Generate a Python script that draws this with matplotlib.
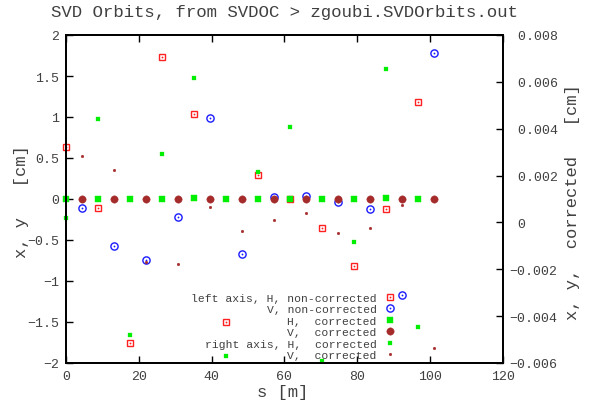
import matplotlib
matplotlib.use("Agg")
import matplotlib.pyplot as plt
from matplotlib.legend_handler import HandlerTuple

plt.rcParams['font.family'] = ['Liberation Mono', 'DejaVu Sans Mono']

# ---------------- data ----------------
s_H = [0.0, 8.8, 17.6, 26.4, 35.2, 44.0, 52.8, 61.6, 70.4, 79.2, 88.0, 96.8]
s_V = [4.4, 13.2, 22.0, 30.8, 39.6, 48.4, 57.2, 66.0, 74.8, 83.6, 92.4, 101.2]

H_noncorr = [0.634, -0.106, -1.756, 1.732, 1.037, -1.500, 0.297, -0.005,
             -0.354, -0.821, -0.124, 1.183]
V_noncorr = [-0.110, -0.573, -0.744, -0.224, 0.988, -0.671, 0.030, 0.033,
             -0.040, -0.120, -1.171, 1.784]
H_corr = [0.00019, 0.00443, -0.00479, 0.00294, 0.00617, -0.00569, 0.00215,
          0.00409, -0.00592, -0.00082, 0.00656, -0.00445]
V_corr = [0.00282, 0.00224, -0.00167, -0.00179, 0.00067, -0.00037, 0.00012,
          0.00041, -0.00045, -0.00024, 0.00074, -0.00535]

x_ticks = [0, 20, 40, 60, 80, 100, 120]
x_labels = ['0', '20', '40', '60', '80', '100', '120']
y_ticks = [-2, -1.5, -1, -0.5, 0, 0.5, 1, 1.5, 2]
y_labels = ['\u22122', '\u22121.5', '\u22121', '\u22120.5', '0', '0.5', '1', '1.5', '2']
y2_ticks = [-0.006, -0.004, -0.002, 0, 0.002, 0.004, 0.006, 0.008]
y2_labels = ['\u22120.006', '\u22120.004', '\u22120.002', ' 0', ' 0.002', ' 0.004',
             ' 0.006', ' 0.008']

legend_labels = ['left axis, H, non-corrected', 'V, non-corrected',
                 'H,  corrected', 'V,  corrected',
                 'right axis, H,  corrected', 'V,  corrected']

title = 'SVD Orbits, from SVDOC > zgoubi.SVDOrbits.out'

# ---------------- style ----------------
RED = '#ff2020'
BLUE = '#1a1aff'
GREEN = '#00ee00'
BROWN = '#a52a2a'
TXT = '#404040'

W, H = 601, 402
fig = plt.figure(figsize=(W / 100, H / 100), dpi=100)
L, R, T, B = 66, 502.7, 36, 364
ax = fig.add_axes([L / W, 1 - B / H, (R - L) / W, (B - T) / H])
ax2 = ax.twinx()

ax.set_xlim(0, 120)
ax.set_ylim(-2, 2)
ax2.set_ylim(-0.006, 0.008)

# H non-corrected: open square with centre dot
h1a, = ax.plot(s_H, H_noncorr, ls='none', marker='s', ms=5.0, mfc='none',
               mec=RED, mew=1.0, clip_on=False)
h1b, = ax.plot(s_H, H_noncorr, ls='none', marker='o', ms=1.3, mfc=RED,
               mec='none', clip_on=False)
# V non-corrected: open circle with centre dot
h2a, = ax.plot(s_V, V_noncorr, ls='none', marker='o', ms=5.2, mfc='none',
               mec=BLUE, mew=1.0, clip_on=False)
h2b, = ax.plot(s_V, V_noncorr, ls='none', marker='o', ms=1.3, mfc=BLUE,
               mec='none', clip_on=False)
# corrected on left axis
h3, = ax.plot(s_H, H_corr, ls='none', marker='s', ms=5.0, mfc=GREEN,
              mec=GREEN, mew=0.3, clip_on=False)
h4, = ax.plot(s_V, V_corr, ls='none', marker='o', ms=5.3, mfc=BROWN,
              mec=BROWN, mew=0.3, clip_on=False)
# corrected on right axis
h5, = ax2.plot(s_H, H_corr, ls='none', marker='s', ms=2.6, mfc=GREEN,
               mec=GREEN, mew=0.2, clip_on=False)
h6, = ax2.plot(s_V, V_corr, ls='none', marker='o', ms=2.0, mfc=BROWN,
               mec=BROWN, mew=0.2, clip_on=False)

# ticks
ax.set_xticks(x_ticks)
ax.set_xticklabels(x_labels)
ax.set_yticks(y_ticks)
ax.set_yticklabels(y_labels)
ax2.set_yticks(y2_ticks)
ax2.set_yticklabels(y2_labels)

ax.tick_params(axis='x', direction='in', top=True, bottom=True, length=5,
               width=1, labelsize=9.5, labelcolor=TXT, pad=5)
ax.tick_params(axis='y', direction='in', left=True, right=False, length=5,
               width=1, labelsize=9.5, labelcolor=TXT, pad=5)
ax2.tick_params(axis='y', direction='in', right=True, left=False, length=5,
                width=1, labelsize=9.5, labelcolor=TXT, pad=5)

for a in (ax, ax2):
    for sp in a.spines.values():
        sp.set_linewidth(1.3)
        sp.set_color('black')

# labels
ax.set_xlabel('s [m]', fontsize=12.3, color=TXT)
ax.xaxis.label.set_va('center')
ax.xaxis.set_label_coords((283 - L) / (R - L), (B - 393) / (B - T))
ax.set_ylabel('x, y   [cm]', fontsize=12.3, color=TXT)
ax.yaxis.label.set_va('center')
ax.yaxis.set_label_coords((22 - L) / (R - L), (B - 202) / (B - T))
ax2.set_ylabel('x, y,  corrected   [cm]', fontsize=12.3, color=TXT)
ax2.yaxis.label.set_va('center')
ax2.yaxis.set_label_coords((572 - L) / (R - L), (B - 202) / (B - T))

fig.text(284 / W, 1 - 13 / H, title, ha='center', va='center',
         fontsize=12.5, color=TXT)

handles = [(h1a, h1b), (h2a, h2b), h3, h4, h5, h6]
leg = ax2.legend(handles, legend_labels, loc='upper right',
                 bbox_to_anchor=(396 / W, 1 - 294 / H),
                 bbox_transform=fig.transFigure, frameon=False,
                 markerfirst=False, fontsize=8.2, handlelength=1.0,
                 handletextpad=0.7, labelspacing=0.13, borderpad=0,
                 borderaxespad=0, numpoints=1,
                 handler_map={tuple: HandlerTuple(ndivide=1)})
for t in leg.get_texts():
    t.set_color(TXT)

fig.savefig('out.png', dpi=100)
